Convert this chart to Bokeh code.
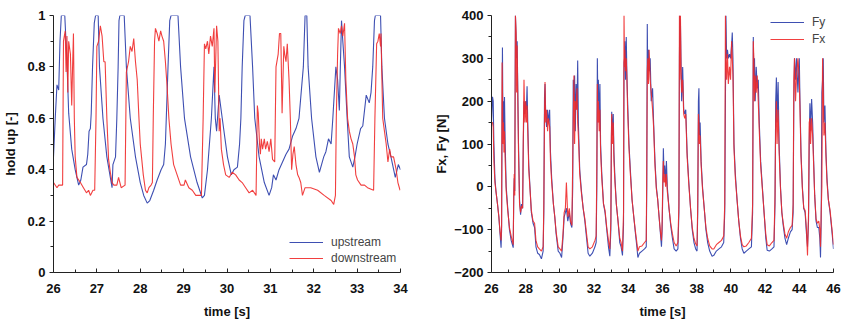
from bokeh.plotting import figure
from bokeh.layouts import row
from bokeh.models import Legend, LegendItem, FixedTicker, Range1d
from bokeh.embed import file_html
from bokeh.resources import INLINE

# ---------------- data: left panel (hold up) ----------------
t_up = [26.00, 26.04, 26.08, 26.12, 26.15, 26.18, 26.26, 26.31, 26.35, 26.42, 26.50, 26.58, 26.63, 26.68,
        26.76, 26.79, 26.82, 26.85, 26.87, 26.90, 26.94, 26.97, 27.03, 27.06, 27.14, 27.23, 27.35, 27.37,
        27.43, 27.46, 27.49, 27.51, 27.53, 27.63, 27.68, 27.77, 27.89, 28.00, 28.08, 28.16, 28.22, 28.31,
        28.39, 28.48, 28.54, 28.58, 28.60, 28.64, 28.68, 28.71, 28.87, 28.93, 29.02, 29.16, 29.31, 29.43,
        29.48, 29.55, 29.64, 29.70, 29.73, 29.76, 29.82, 29.89, 30.01, 30.10, 30.16, 30.24, 30.29, 30.32,
        30.35, 30.39, 30.42, 30.53, 30.59, 30.64, 30.74, 30.86, 30.97, 31.03, 31.07, 31.13, 31.20, 31.28,
        31.36, 31.43, 31.51, 31.59, 31.66, 31.76, 31.80, 31.84, 31.87, 31.95, 32.05, 32.13, 32.18, 32.23,
        32.28, 32.34, 32.40, 32.44, 32.51, 32.55, 32.59, 32.61, 32.64, 32.67, 32.71, 32.77, 32.82, 32.90,
        32.95, 33.00, 33.08, 33.13, 33.21, 33.28, 33.32, 33.36, 33.40, 33.42, 33.54, 33.57, 33.63, 33.71,
        33.78, 33.88, 33.95, 34.00]
upstream = [0.45, 0.60, 0.73, 0.71, 0.90, 1.00, 1.00, 0.82, 0.62, 0.48, 0.40, 0.34, 0.36, 0.41,
            0.42, 0.46, 0.55, 0.56, 0.62, 0.80, 0.97, 1.00, 1.00, 0.80, 0.60, 0.45, 0.33, 0.42,
            0.45, 0.60, 0.80, 0.98, 1.00, 1.00, 0.80, 0.60, 0.45, 0.35, 0.30, 0.27, 0.28, 0.32,
            0.36, 0.40, 0.42, 0.50, 0.60, 0.80, 0.98, 1.00, 1.00, 0.80, 0.60, 0.45, 0.35, 0.29,
            0.30, 0.40, 0.60, 0.80, 0.60, 0.55, 0.69, 0.60, 0.45, 0.38, 0.40, 0.41, 0.50, 0.60,
            0.80, 0.98, 1.00, 1.00, 0.80, 0.60, 0.45, 0.35, 0.30, 0.33, 0.38, 0.36, 0.40, 0.43,
            0.46, 0.48, 0.53, 0.56, 0.60, 0.80, 1.00, 1.00, 0.80, 0.60, 0.45, 0.39, 0.42, 0.45,
            0.47, 0.52, 0.50, 0.60, 0.80, 0.75, 0.63, 0.78, 0.98, 0.90, 0.80, 0.60, 0.45, 0.41,
            0.45, 0.50, 0.56, 0.57, 0.69, 0.66, 0.70, 0.80, 0.98, 1.00, 1.00, 0.80, 0.60, 0.50,
            0.45, 0.37, 0.42, 0.40]

t_down = [26.00, 26.08, 26.12, 26.21, 26.23, 26.27, 26.29, 26.31, 26.33, 26.35, 26.39, 26.42, 26.44, 26.46,
          26.48, 26.50, 26.54, 26.62, 26.69, 26.76, 26.81, 26.85, 26.91, 26.95, 26.98, 27.00, 27.04, 27.08,
          27.12, 27.16, 27.19, 27.23, 27.27, 27.31, 27.35, 27.39, 27.46, 27.50, 27.56, 27.65, 27.68, 27.73,
          27.77, 27.81, 27.85, 27.89, 27.93, 27.97, 28.00, 28.07, 28.12, 28.16, 28.20, 28.25, 28.28, 28.30,
          28.33, 28.35, 28.39, 28.43, 28.47, 28.50, 28.54, 28.58, 28.62, 28.66, 28.71, 28.77, 28.85, 28.93,
          29.01, 29.04, 29.12, 29.20, 29.28, 29.41, 29.45, 29.48, 29.51, 29.55, 29.58, 29.62, 29.66, 29.70,
          29.72, 29.76, 29.79, 29.82, 29.84, 29.87, 29.92, 29.97, 30.05, 30.12, 30.20, 30.28, 30.35, 30.43,
          30.51, 30.59, 30.67, 30.70, 30.72, 30.75, 30.77, 30.79, 30.82, 30.86, 30.89, 30.93, 30.97, 31.01,
          31.05, 31.10, 31.13, 31.18, 31.21, 31.24, 31.27, 31.31, 31.33, 31.36, 31.39, 31.43, 31.46, 31.49,
          31.52, 31.55, 31.59, 31.63, 31.66, 31.70, 31.74, 31.80, 31.93, 32.09, 32.24, 32.40, 32.46, 32.50,
          32.52, 32.55, 32.57, 32.61, 32.64, 32.67, 32.71, 32.74, 32.78, 32.82, 32.86, 32.90, 32.94, 32.97,
          33.01, 33.09, 33.17, 33.24, 33.38, 33.41, 33.45, 33.48, 33.51, 33.54, 33.55, 33.59, 33.63, 33.67,
          33.71, 33.75, 33.78, 33.84, 33.90, 33.94, 33.99]
downstream = [0.35, 0.33, 0.34, 0.34, 0.90, 0.94, 0.78, 0.92, 0.70, 0.90, 0.85, 0.65, 0.80, 0.93,
              0.60, 0.45, 0.37, 0.35, 0.33, 0.31, 0.32, 0.30, 0.32, 0.32, 0.60, 0.88, 0.90, 0.96,
              0.92, 0.82, 0.82, 0.60, 0.44, 0.39, 0.35, 0.34, 0.34, 0.37, 0.33, 0.34, 0.78, 0.82,
              0.88, 0.86, 0.91, 0.82, 0.75, 0.60, 0.50, 0.38, 0.32, 0.31, 0.33, 0.34, 0.35, 0.60,
              0.90, 0.95, 0.93, 0.90, 0.94, 0.92, 0.90, 0.82, 0.72, 0.60, 0.50, 0.42, 0.38, 0.34,
              0.34, 0.36, 0.33, 0.32, 0.30, 0.30, 0.60, 0.89, 0.87, 0.90, 0.85, 0.92, 0.88, 0.95,
              0.70, 0.96, 0.90, 0.55, 0.60, 0.48, 0.42, 0.38, 0.37, 0.39, 0.38, 0.36, 0.35, 0.33,
              0.31, 0.32, 0.30, 0.65, 0.62, 0.50, 0.46, 0.52, 0.48, 0.52, 0.48, 0.51, 0.47, 0.52,
              0.44, 0.43, 0.80, 0.85, 0.93, 0.93, 0.62, 0.88, 0.85, 0.82, 0.89, 0.75, 0.60, 0.40,
              0.46, 0.49, 0.42, 0.38, 0.37, 0.35, 0.30, 0.33, 0.33, 0.32, 0.30, 0.28, 0.265, 0.30,
              0.60, 0.85, 0.95, 0.93, 0.96, 0.92, 0.97, 0.75, 0.60, 0.55, 0.52, 0.50, 0.45, 0.38,
              0.36, 0.34, 0.34, 0.33, 0.32, 0.60, 0.89, 0.90, 0.93, 0.88, 0.93, 0.60, 0.55, 0.50,
              0.43, 0.48, 0.45, 0.45, 0.40, 0.35, 0.32]

# ---------------- data: right panel (forces) ----------------
t_force = [26.00, 26.06, 26.10, 26.14, 26.20, 26.26, 26.35, 26.43, 26.50, 26.56, 26.59, 26.62, 26.64, 26.67,
           26.70, 26.73, 26.76, 26.80, 26.86, 26.95, 27.05, 27.15, 27.27, 27.30, 27.33, 27.36, 27.40, 27.44,
           27.47, 27.50, 27.54, 27.58, 27.64, 27.70, 27.76, 27.82, 27.86, 27.90, 27.95, 28.00, 28.04, 28.08,
           28.12, 28.18, 28.25, 28.33, 28.43, 28.52, 28.60, 28.70, 28.80, 28.92, 29.02, 29.06, 29.10, 29.13,
           29.17, 29.22, 29.28, 29.33, 29.40, 29.45, 29.52, 29.62, 29.70, 29.78, 29.90, 30.00, 30.10, 30.18,
           30.25, 30.32, 30.38, 30.46, 30.55, 30.62, 30.70, 30.75, 30.78, 30.82, 30.86, 30.90, 30.95, 31.00,
           31.04, 31.08, 31.16, 31.26, 31.36, 31.46, 31.56, 31.65, 31.75, 31.90, 32.05, 32.12, 32.16, 32.19,
           32.22, 32.25, 32.30, 32.34, 32.38, 32.45, 32.55, 32.64, 32.74, 32.84, 32.92, 32.98, 33.01, 33.03,
           33.07, 33.12, 33.16, 33.22, 33.30, 33.40, 33.50, 33.58, 33.66, 33.72, 33.75, 33.78, 33.80, 33.84,
           33.88, 33.92, 33.96, 34.04, 34.12, 34.22, 34.32, 34.42, 34.50, 34.56, 34.65, 34.80, 34.95, 35.05,
           35.08, 35.11, 35.14, 35.18, 35.22, 35.28, 35.34, 35.42, 35.48, 35.56, 35.64, 35.72, 35.80, 35.88,
           35.94, 35.98, 36.02, 36.05, 36.09, 36.13, 36.18, 36.23, 36.28, 36.38, 36.48, 36.58, 36.68, 36.80,
           36.90, 36.96, 36.99, 37.01, 37.05, 37.08, 37.12, 37.18, 37.24, 37.30, 37.36, 37.44, 37.54, 37.64,
           37.74, 37.84, 37.94, 38.02, 38.06, 38.10, 38.13, 38.16, 38.20, 38.26, 38.34, 38.44, 38.54, 38.64,
           38.76, 38.90, 39.00, 39.15, 39.30, 39.45, 39.58, 39.64, 39.68, 39.71, 39.75, 39.80, 39.85, 39.92,
           39.98, 40.04, 40.08, 40.12, 40.18, 40.26, 40.36, 40.46, 40.56, 40.66, 40.76, 40.90, 41.05, 41.20,
           41.27, 41.31, 41.34, 41.38, 41.42, 41.48, 41.54, 41.60, 41.66, 41.74, 41.84, 41.94, 42.04, 42.12,
           42.25, 42.40, 42.52, 42.58, 42.62, 42.66, 42.70, 42.76, 42.82, 42.90, 42.98, 43.06, 43.16, 43.26,
           43.36, 43.48, 43.58, 43.64, 43.68, 43.72, 43.78, 43.84, 43.92, 44.00, 44.04, 44.10, 44.18, 44.26,
           44.34, 44.42, 44.48, 44.54, 44.58, 44.62, 44.66, 44.72, 44.78, 44.84, 44.90, 44.98, 45.06, 45.14,
           45.20, 45.24, 45.28, 45.32, 45.36, 45.40, 45.44, 45.50, 45.56, 45.62, 45.70, 45.80, 45.90, 46.00]
fy = [150, 210, 200, 100, 20, -10, -40, -70, -110, -142, -100, 180, 325, 150,
      200, 110, 210, 100, 0, -50, -100, -125, -142, -30, 20, -10, 400, 350,
      300, 340, 220, 100, -30, -65, -40, -50, 100, 200, 170, 200, 180, 235,
      150, 50, 0, -60, -85, -95, -140, -155, -158, -168, -150, -60, 210, 240,
      170, 140, 180, 150, 180, 80, 20, -40, -70, -110, -150, -155, -165, -120,
      -70, -60, -50, -80, -60, -85, -95, 0, 250, 200, 260, 130, 240, 180,
      295, 150, 40, -10, -50, -80, -120, -155, -162, -155, -140, -130, 0, 300,
      200, 250, 150, 240, 100, 30, -40, -60, -100, -140, -162, -100, 100, 175,
      120, 170, 80, 20, -40, -80, -130, -140, -160, -90, 290, 300, 340, 250,
      350, 260, 200, 100, 40, -30, -70, -110, -140, -165, -155, -150, -145, -140,
      0, 380, 250, 320, 270, 300, 200, 230, 150, 60, 0, -30, -70, -110,
      -140, -100, 0, 90, 30, 50, 10, 60, 0, -50, -90, -120, -145, -150,
      -145, -60, 300, 400, 380, 300, 200, 280, 180, 170, 180, 80, 10, -50,
      -100, -130, -145, -150, -60, 200, 230, 120, 150, 60, 0, -50, -100, -130,
      -150, -162, -160, -150, -145, -140, -130, -60, 200, 400, 300, 320, 300, 310,
      300, 330, 360, 300, 100, 30, -30, -80, -120, -145, -155, -150, -145, -140,
      -60, 350, 250, 300, 200, 280, 230, 250, 150, 60, 0, -60, -120, -148,
      -150, -145, -140, -40, 200, 255, 150, 245, 100, 0, -60, -90, -120, -135,
      -120, -105, -100, -60, 200, 300, 250, 300, 220, 300, 200, 80, 0, -50,
      -60, -110, -140, -80, 100, 195, 130, 205, 150, 60, -20, -80, -95, -95,
      -120, -165, -80, 220, 250, 300, 150, 190, 80, 20, -30, -60, -100, -145]
fx = [150, 150, 140, 60, 10, -10, -40, -70, -105, -125, -90, 290, 230, 100,
      150, 80, 130, 60, -10, -55, -95, -115, -135, -20, 30, -20, 400, 360,
      220, 330, 200, 80, -40, -60, -45, -50, 120, 250, 150, 200, 150, 190,
      130, 40, -5, -55, -80, -85, -125, -140, -145, -150, -140, -40, 170, 245,
      150, 180, 130, 160, 140, 60, 10, -40, -70, -105, -140, -145, -150, -110,
      -60, -50, 10, -70, -50, -80, -90, 60, 160, 260, 100, 200, 180, 230,
      150, 120, 30, -15, -50, -75, -110, -140, -145, -140, -125, -115, 50, 240,
      150, 200, 130, 180, 80, 20, -40, -55, -95, -125, -145, -80, 120, 170,
      100, 150, 60, 10, -40, -80, -120, -130, -150, -60, 400, 280, 320, 270,
      300, 250, 180, 90, 30, -30, -70, -105, -130, -150, -140, -138, -130, -125,
      50, 270, 300, 240, 320, 250, 220, 180, 140, 50, -5, -30, -70, -105,
      -125, -80, 20, 60, 10, 30, 0, 30, -10, -50, -85, -110, -130, -138,
      -130, -40, 400, 250, 400, 280, 220, 250, 170, 160, 170, 70, 5, -50,
      -95, -120, -133, -138, -40, 170, 150, 100, 120, 50, -5, -50, -95, -120,
      -138, -145, -145, -135, -130, -125, -115, -40, 400, 300, 250, 310, 240, 280,
      250, 340, 300, 260, 90, 20, -30, -80, -115, -135, -140, -138, -130, -120,
      -40, 340, 300, 200, 260, 220, 260, 200, 130, 50, -5, -60, -110, -135,
      -138, -130, -125, -20, 150, 200, 100, 180, 80, -5, -60, -85, -110, -120,
      -105, -95, -90, -40, 250, 300, 200, 260, 300, 250, 180, 70, -5, -50,
      -55, -100, -160, -60, 150, 160, 100, 160, 120, 50, -20, -75, -85, -80,
      -100, -140, -60, 0, 300, 230, 120, 150, 70, 10, -30, -55, -95, -135]

left_xticks = [26, 27, 28, 29, 30, 31, 32, 33, 34]
left_yticks = [0, 0.2, 0.4, 0.6, 0.8, 1]
right_xticks = [26, 28, 30, 32, 34, 36, 38, 40, 42, 44, 46]
right_yticks = [-200, -100, 0, 100, 200, 300, 400]

BLUE = "#3e4fb2"
RED = "#f02a2a"
FONT = "Liberation Sans"


def style(p, xlabel, ylabel, xticks, yticks, xminor, yminor):
    p.grid.visible = False
    p.outline_line_color = None
    p.background_fill_color = "white"
    p.border_fill_color = "white"
    p.xaxis.ticker = FixedTicker(ticks=xticks, minor_ticks=xminor)
    p.yaxis.ticker = FixedTicker(ticks=yticks, minor_ticks=yminor)
    for ax in (p.xaxis[0], p.yaxis[0]):
        ax.axis_line_color = "#222222"
        ax.major_tick_line_color = "#222222"
        ax.minor_tick_line_color = "#222222"
        ax.major_label_text_font = FONT
        ax.major_label_text_font_style = "bold"
        ax.major_label_text_font_size = "13px"
        ax.major_label_text_color = "#111111"
        ax.axis_label_text_font = FONT
        ax.axis_label_text_font_style = "bold"
        ax.axis_label_text_font_size = "13px"
        ax.axis_label_text_color = "#111111"
    p.xaxis.axis_label = xlabel
    p.yaxis.axis_label = ylabel
    p.xaxis.major_tick_in = 4
    p.xaxis.major_tick_out = 0
    p.xaxis.minor_tick_in = 3
    p.xaxis.minor_tick_out = 0
    p.yaxis.major_tick_in = 0
    p.yaxis.major_tick_out = 4
    p.yaxis.minor_tick_in = 0
    p.yaxis.minor_tick_out = 3
    p.xaxis.major_label_standoff = 11
    p.xaxis.axis_label_standoff = 8


# ---------------- left figure ----------------
p1 = figure(width=420, height=323, output_backend="svg", toolbar_location=None,
            x_range=Range1d(26, 34), y_range=Range1d(0, 1),
            min_border_left=53, min_border_right=20, min_border_top=10, min_border_bottom=51)
r_up = p1.line(t_up, upstream, line_color=BLUE, line_width=1.1)
r_dn = p1.line(t_down, downstream, line_color=RED, line_width=1.1, line_alpha=0.9)
style(p1, "time [s]", "hold up [-]", left_xticks, left_yticks,
      [26.5, 27.5, 28.5, 29.5, 30.5, 31.5, 32.5, 33.5],
      [0.1, 0.3, 0.5, 0.7, 0.9])
p1.yaxis.major_label_standoff = 4
p1.yaxis.axis_label_standoff = 6
leg1 = Legend(items=[LegendItem(label="upstream", renderers=[r_up]),
                     LegendItem(label="downstream", renderers=[r_dn])],
              location=(236, 6), padding=0, margin=0, spacing=0,
              glyph_width=34, glyph_height=16, label_height=16, label_standoff=8,
              border_line_alpha=0, background_fill_alpha=0,
              label_text_font=FONT, label_text_font_size="12px", label_text_color="#444444")
p1.add_layout(leg1, "center")

# ---------------- right figure ----------------
p2 = figure(width=421, height=323, output_backend="svg", toolbar_location=None,
            x_range=Range1d(26, 46), y_range=Range1d(-200, 400),
            min_border_left=71, min_border_right=8, min_border_top=15, min_border_bottom=49)
r_fy = p2.line(t_force, fy, line_color=BLUE, line_width=1.1)
r_fx = p2.line(t_force, fx, line_color=RED, line_width=1.1, line_alpha=0.9)
style(p2, "time [s]", "Fx, Fy [N]", right_xticks, right_yticks,
      [27, 29, 31, 33, 35, 37, 39, 41, 43, 45],
      [-150, -50, 50, 150, 250, 350])
p2.yaxis.major_label_standoff = 4
p2.yaxis.axis_label_standoff = 2
leg2 = Legend(items=[LegendItem(label="Fy", renderers=[r_fy]),
                     LegendItem(label="Fx", renderers=[r_fx])],
              location=(279, 225), padding=0, margin=0, spacing=1,
              glyph_width=34, glyph_height=16, label_height=16, label_standoff=8,
              border_line_alpha=0, background_fill_alpha=0,
              label_text_font=FONT, label_text_font_size="12px", label_text_color="#444444")
p2.add_layout(leg2, "center")

layout = row(p1, p2)
open("out.html", "w").write(file_html(layout, INLINE))
